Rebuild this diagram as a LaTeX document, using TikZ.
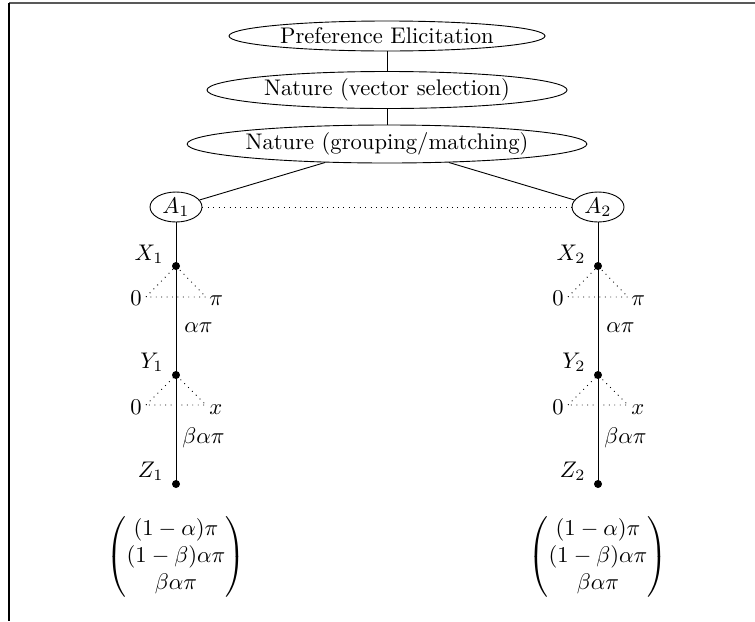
\documentclass[tikz,border=0pt]{standalone}
\usepackage{amsmath}
\usetikzlibrary{shapes.geometric}
\begin{document}
\begin{tikzpicture}[x=0.4425pt, y=-0.4425pt,
  stage/.style={draw, ellipse, inner sep=0pt},
  player/.style={draw, ellipse, inner sep=0pt,
    minimum width=52*0.4425pt, minimum height=30*0.4425pt},
  decision/.style={circle, fill, inner sep=0pt, minimum size=8*0.4425pt},
  branch/.style={dotted},
  tag/.style={inner sep=0pt}]
\useasboundingbox (0,0) rectangle (755,621);

% page frame (top and left rules)
\draw[black!65, line width=0.5pt] (9,3) -- (755,3);
\draw[line width=0.65pt] (9,3) -- (9,621);

% stages of the game
\node[stage, minimum width=316*0.4425pt, minimum height=30*0.4425pt] (pe) at (387,36) {Preference Elicitation};
\node[stage, minimum width=360*0.4425pt, minimum height=37*0.4425pt] (vs) at (387,90) {Nature (vector selection)};
\node[stage, minimum width=394*0.4425pt, minimum height=38*0.4425pt] (gm) at (387,144) {Nature (grouping/matching)};

\node[player] (a1) at (176,207) {$A_1$};
\node[player] (a2) at (598,207) {$A_2$};

\draw (pe) -- (vs);
\draw (vs) -- (gm);
\draw (gm) -- (a1);
\draw (gm) -- (a2);
\draw[branch] (a1) -- (a2);

% the two agents' branches
\foreach \i/\cx in {1/176, 2/598} {
  \node[decision] (x\i) at (\cx,266) {};
  \node[decision] (y\i) at (\cx,375) {};
  \node[decision] (z\i) at (\cx,484) {};
  \draw (a\i) -- (z\i.center);

  \node[tag, anchor=base east] (xn\i) at (\cx-12,260) {$X_\i$};
  \node[tag, anchor=base east] (yn\i) at (\cx-12,368) {$Y_\i$};
  \node[tag, anchor=base east] (zn\i) at (\cx-12,477) {$Z_\i$};

  % first split: 0 or pi
  \coordinate (xl\i) at (\cx-30,297);
  \coordinate (xr\i) at (\cx+30,297);
  \draw[branch] (xl\i) -- (x\i.center) -- (xr\i) -- cycle;
  \node[tag, anchor=base east] (xzero\i) at (\cx-34,305) {$0$};
  \node[tag, anchor=base west] (xpi\i) at (\cx+33,305) {$\pi$};
  \node[tag, anchor=base west] (ap\i) at (\cx+8,332) {$\alpha\pi$};

  % second split: 0 or x
  \coordinate (yl\i) at (\cx-30,405);
  \coordinate (yr\i) at (\cx+30,405);
  \draw[branch] (yl\i) -- (y\i.center) -- (yr\i) -- cycle;
  \node[tag, anchor=base east] (yzero\i) at (\cx-34,414) {$0$};
  \node[tag, anchor=base west] (yx\i) at (\cx+33,414) {$x$};
  \node[tag, anchor=base west] (bap\i) at (\cx+6,443) {$\beta\alpha\pi$};

  % payoff vector
  \node (v\i) at (\cx,557) {$\begin{pmatrix}(1-\alpha)\pi\\(1-\beta)\alpha\pi\\\beta\alpha\pi\end{pmatrix}$};
}
\end{tikzpicture}
\end{document}
